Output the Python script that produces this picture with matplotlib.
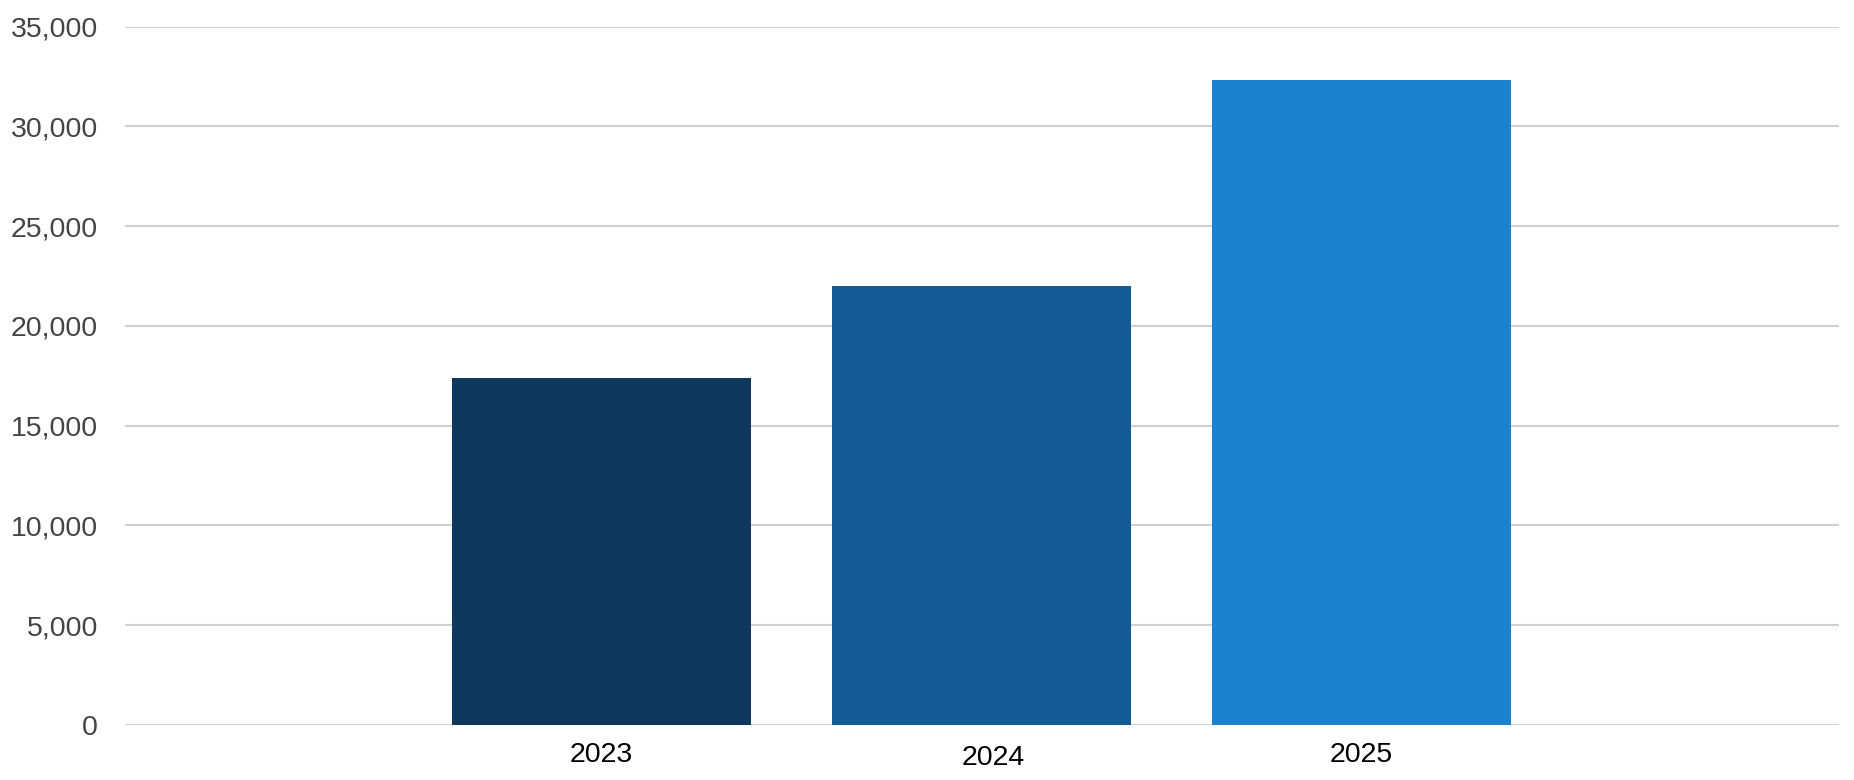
import matplotlib
matplotlib.use("Agg")
import matplotlib.pyplot as plt
import matplotlib.transforms as mtransforms
from matplotlib.ticker import FuncFormatter

years = ["2023", "2024", "2025"]
values = [17400, 22000, 32300]
colors = ["#0e395c", "#155a94", "#1c82ce"]
yticks = [0, 5000, 10000, 15000, 20000, 25000, 30000, 35000]

plt.rcParams["font.family"] = ["Liberation Sans", "DejaVu Sans"]

fig = plt.figure(figsize=(18.54, 7.8), dpi=100)
ax = fig.add_axes([0.0674, 0.0705, 0.9245, 0.8955])

x = list(range(len(years)))
ax.bar(x, values, width=0.787, color=colors, zorder=3)

ax.set_xlim(-1.254, 3.257)
ax.set_ylim(0, 35000)
ax.set_yticks(yticks)
ax.yaxis.set_major_formatter(FuncFormatter(lambda v, p: f"{int(v):,}"))
ax.set_xticks(x)
ax.set_xticklabels(years)

# look
for s in ax.spines.values():
    s.set_visible(False)
ax.grid(axis="y", color="#d0d0d0", linewidth=1.5, zorder=0)
ax.tick_params(axis="y", length=0, pad=19.5, labelsize=20.5, labelcolor="#444444")
ax.tick_params(axis="x", length=0, pad=12.5, labelsize=20.5, labelcolor="#000000")

# the middle label sits a bit off in the original
lab = ax.get_xticklabels()[1]
lab.set_transform(lab.get_transform() + mtransforms.ScaledTranslation(12 / 100, -3 / 100, fig.dpi_scale_trans))

fig.savefig("out.png", dpi=100)
